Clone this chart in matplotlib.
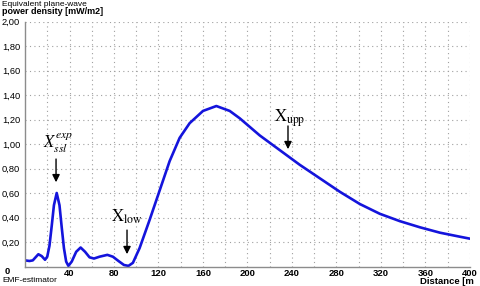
import matplotlib
matplotlib.use("Agg")
import matplotlib.pyplot as plt

# Courbe de densité de puissance
distance = [0, 4, 7, 12, 15, 18, 20, 22, 24, 26, 28.5, 31, 33, 35, 37, 39,
            42, 46, 50, 54, 58, 62, 67, 74, 79, 84, 89, 93, 97, 103, 112,
            121, 130, 139, 148, 160, 172, 184, 193, 211, 229, 247, 265, 283,
            301, 319, 337, 355, 373, 391, 400]
densite = [0.05, 0.045, 0.05, 0.10, 0.085, 0.055, 0.08, 0.17, 0.33, 0.50,
           0.60, 0.50, 0.32, 0.15, 0.04, 0.005, 0.04, 0.12, 0.155, 0.12,
           0.075, 0.065, 0.08, 0.095, 0.08, 0.045, 0.012, 0.005, 0.03, 0.15,
           0.38, 0.62, 0.86, 1.05, 1.17, 1.27, 1.31, 1.27, 1.21, 1.07, 0.95,
           0.83, 0.72, 0.61, 0.51, 0.43, 0.37, 0.32, 0.276, 0.243, 0.227]

y_ticks = [0.2, 0.4, 0.6, 0.8, 1.0, 1.2, 1.4, 1.6, 1.8, 2.0]
y_labels = ["0,20", "0,40", "0,60", "0,80", "1,00", "1,20", "1,40", "1,60", "1,80", "2,00"]
x_ticks = [40, 80, 120, 160, 200, 240, 280, 320, 360, 400]

# Annotations : (texte, position du texte, début flèche, pointe flèche)
notes = [
    (r"$X_{ssl}^{exp}$", (16.2, 0.967), (27.9, 0.90), (27.9, 0.665)),
    (r"$\mathrm{X}_{\mathrm{low}}$", (77.3, 0.363), (91.7, 0.32), (91.7, 0.078)),
    (r"$\mathrm{X}_{\mathrm{upp}}$", (223.8, 1.18), (236.4, 1.17), (236.4, 0.935)),
]

W, H = 481, 286
plt.rcParams["font.family"] = ["Liberation Sans", "DejaVu Sans"]
plt.rcParams["mathtext.fontset"] = "stix"

fig = plt.figure(figsize=(W / 100, H / 100), dpi=100)
ax = fig.add_axes([25 / W, 1 - 266.5 / H, 445 / W, 245 / H])

ax.plot(distance, densite, color="#1414dc", lw=1.9, solid_capstyle="round")

ax.set_xlim(0, 400)
ax.set_ylim(0, 2.0)
ax.set_xticks(x_ticks)
ax.set_xticklabels([str(v) for v in x_ticks], fontweight="bold", fontsize=6.8)
ax.set_yticks(y_ticks)
ax.set_yticklabels(y_labels, fontsize=6.7)
ax.set_xticks(range(20, 401, 20), minor=True)
ax.tick_params(axis="both", which="both", length=0)
ax.tick_params(axis="y", pad=3.5)
ax.tick_params(axis="x", pad=1.8)

ax.grid(True, which="both", axis="x", color="#a0a0a0", lw=0.8, linestyle=(0, (1, 3)))
ax.grid(True, which="major", axis="y", color="#a0a0a0", lw=0.8, linestyle=(0, (1, 3)))

for side in ["top", "right"]:
    ax.spines[side].set_visible(False)
for side in ["left", "bottom"]:
    ax.spines[side].set_color("#8c8c8c")
    ax.spines[side].set_linewidth(1.0)

for texte, pos_txt, debut, pointe in notes:
    ax.text(pos_txt[0], pos_txt[1], texte, fontsize=12, ha="left", va="baseline")
    ax.annotate("", xy=pointe, xytext=debut,
                arrowprops=dict(arrowstyle="-|>", color="black", lw=1.0, mutation_scale=11))

def px_text(x, y, s, **kw):
    fig.text(x / W, 1 - y / H, s, **kw)

px_text(2, 6.5, "Equivalent plane-wave", fontsize=6.0, va="baseline")
px_text(2, 14, "power density [mW/m2]", fontsize=6.5, fontweight="bold", va="baseline")
px_text(7, 272, "0", fontsize=6.8, fontweight="bold", ha="center", va="center")
px_text(420, 283.5, "Distance [m", fontsize=6.8, fontweight="bold", va="baseline")
px_text(2, 282.5, "EMF-estimator", fontsize=6.0, va="baseline")

fig.savefig("out.png", dpi=100)
